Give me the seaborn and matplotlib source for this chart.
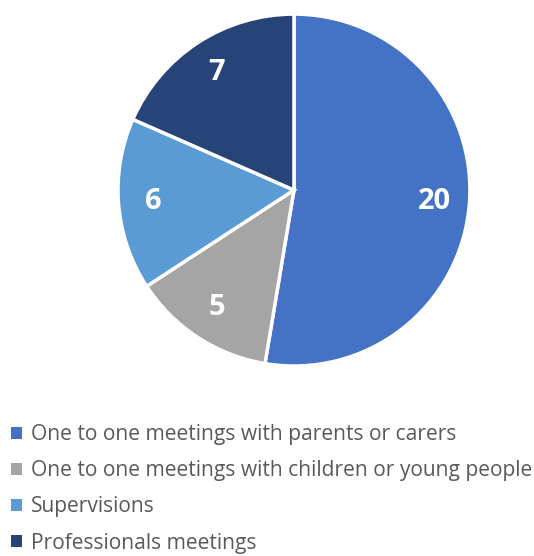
import matplotlib
matplotlib.use("Agg")
import matplotlib.pyplot as plt
import seaborn as sns

categories = ['One to one meetings with parents or carers',
              'One to one meetings with children or young people',
              'Supervisions',
              'Professionals meetings']
values = [20, 5, 6, 7]
colors = ['#4472C4', '#A5A5A5', '#5B9BD5', '#264478']

sns.set_theme(style='white')
plt.rcParams['font.family'] = ['Open Sans', 'DejaVu Sans']

fig = plt.figure(figsize=(5.34, 5.56), dpi=100)
ax = fig.add_axes([0.221, 0.3417, 0.659, 0.633])

pal = sns.color_palette(colors)
wedges, texts = ax.pie(values, colors=pal, startangle=90, counterclock=False,
                       labels=[str(v) for v in values], labeldistance=0.8,
                       wedgeprops=dict(edgecolor='white', linewidth=2.5),
                       textprops=dict(color='white', fontsize=21, fontweight='bold',
                                      ha='center', va='center'))
ax.set_aspect('equal')
ax.set_xlim(-1.0, 1.0)
ax.set_ylim(-1.0, 1.0)

leg = fig.legend(wedges, categories, loc='upper left', bbox_to_anchor=(0.005, 0.252),
                 frameon=False, fontsize=15.1, handlelength=0.5, handleheight=0.5,
                 handletextpad=0.45, labelspacing=0.72, borderaxespad=0)
for t in leg.get_texts():
    t.set_color('#595959')
for h in leg.legend_handles:
    h.set_edgecolor('none')

fig.savefig('out.png', dpi=100)
